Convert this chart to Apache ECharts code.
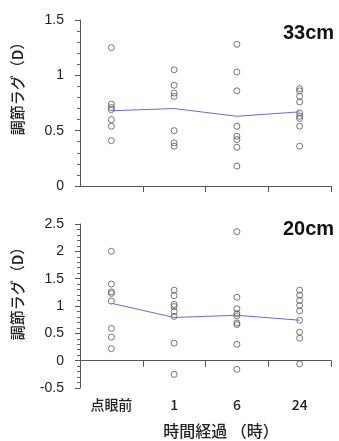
<!DOCTYPE html>
<html>
<head>
<meta charset="utf-8">
<script src="https://cdn.jsdelivr.net/npm/echarts@6/dist/echarts.min.js"></script>
<style>
html,body{margin:0;padding:0;background:#fff;}
#c{width:339px;height:441px;}
</style>
</head>
<body>
<div id="c"></div>
<script>
// ---- data ----
const categories = ['点眼前', '1', '6', '24'];

// 33cm panel: individual values per time point
const d33_pre = [1.25, 0.74, 0.71, 0.69, 0.60, 0.54, 0.41];
const d33_1h  = [1.05, 0.91, 0.84, 0.81, 0.50, 0.39, 0.36];
const d33_6h  = [1.28, 1.03, 0.86, 0.54, 0.45, 0.42, 0.35, 0.18];
const d33_24h = [0.88, 0.86, 0.81, 0.76, 0.66, 0.63, 0.61, 0.54, 0.36];
const mean33  = [0.68, 0.70, 0.63, 0.67];

// 20cm panel
const d20_pre = [2.00, 1.40, 1.26, 1.23, 1.09, 0.59, 0.43, 0.22];
const d20_1h  = [1.29, 1.19, 1.03, 0.99, 0.90, 0.81, 0.32, -0.25];
const d20_6h  = [2.36, 1.16, 0.95, 0.86, 0.82, 0.69, 0.66, 0.30, -0.16];
const d20_24h = [1.29, 1.20, 1.10, 1.01, 0.91, 0.74, 0.52, 0.41, -0.06];
const mean20  = [1.05, 0.79, 0.83, 0.74];

const ticks33 = [0, 0.5, 1, 1.5];
const ticks20 = [-0.5, 0, 0.5, 1, 1.5, 2, 2.5];

const yTitle = '調節ラグ（D）';
const xTitle = '時間経過 （時）';
const panelTitles = ['33cm', '20cm'];

// ---- build options ----
const groups33 = [d33_pre, d33_1h, d33_6h, d33_24h];
const groups20 = [d20_pre, d20_1h, d20_6h, d20_24h];

function toPoints(groups) {
  const pts = [];
  groups.forEach((g, i) => g.forEach(v => pts.push([categories[i], v])));
  return pts;
}

const jpFont = '"Noto Sans CJK JP", sans-serif';
const numFont = '"Liberation Sans", Arial, sans-serif';
const axisGray = '#555';

function xAxisCfg(gridIndex, showLabels) {
  return {
    type: 'category', gridIndex: gridIndex, data: categories, boundaryGap: true,
    axisLine: { lineStyle: { color: axisGray, width: 1 } },
    axisTick: { show: true, length: 6, interval: (idx) => idx !== 0, lineStyle: { color: axisGray } },
    axisLabel: { show: showLabels, fontFamily: jpFont, fontSize: 14, fontWeight: 500, color: '#222', margin: 10 },
    splitLine: { show: false }
  };
}

function yAxisCfg(gridIndex, min, max, ticks) {
  return {
    type: 'value', gridIndex: gridIndex, min: min, max: max, interval: 0.5,
    axisLine: { show: true, lineStyle: { color: axisGray, width: 1 } },
    axisTick: { show: true, length: 5, lineStyle: { color: axisGray } },
    minorTick: { show: true, splitNumber: 5, length: 3, lineStyle: { color: '#666' } },
    axisLabel: {
      fontFamily: numFont, fontSize: 14, color: '#222', margin: 16,
      formatter: (v) => ticks.indexOf(v) >= 0 ? String(v) : ''
    },
    splitLine: { show: false }, minorSplitLine: { show: false }
  };
}

const scatterStyle = { color: 'rgba(0,0,0,0)', borderColor: '#555', borderWidth: 1 };
const lineColor = '#6a6ade';

const option = {
  animation: false,
  backgroundColor: '#fff',
  grid: [
    { left: 80, right: 8, top: 20, height: 166 },
    { left: 80, right: 8, top: 224, height: 164 }
  ],
  xAxis: [xAxisCfg(0, false), xAxisCfg(1, true)],
  yAxis: [yAxisCfg(0, 0, 1.5, ticks33), yAxisCfg(1, -0.5, 2.5, ticks20)],
  series: [
    { type: 'scatter', xAxisIndex: 0, yAxisIndex: 0, symbol: 'circle', symbolSize: 6,
      itemStyle: scatterStyle, data: toPoints(groups33) },
    { type: 'line', xAxisIndex: 0, yAxisIndex: 0, symbol: 'none', z: 3,
      lineStyle: { color: lineColor, width: 1 }, data: mean33 },
    { type: 'scatter', xAxisIndex: 1, yAxisIndex: 1, symbol: 'circle', symbolSize: 6,
      itemStyle: scatterStyle, data: toPoints(groups20) },
    { type: 'line', xAxisIndex: 1, yAxisIndex: 1, symbol: 'none', z: 3,
      lineStyle: { color: lineColor, width: 1 }, data: mean20 }
  ],
  graphic: [
    { type: 'text', left: 283, top: 23, style: { text: panelTitles[0], font: 'bold 20px "Liberation Sans", Arial, sans-serif', fill: '#111' } },
    { type: 'text', left: 283, top: 219, style: { text: panelTitles[1], font: 'bold 20px "Liberation Sans", Arial, sans-serif', fill: '#111' } },
    { type: 'text', x: 17, y: 85, rotation: Math.PI / 2,
      style: { text: yTitle, font: '500 15px ' + jpFont, fill: '#222', align: 'center', verticalAlign: 'middle' } },
    { type: 'text', x: 17, y: 290, rotation: Math.PI / 2,
      style: { text: yTitle, font: '500 15px ' + jpFont, fill: '#222', align: 'center', verticalAlign: 'middle' } },
    { type: 'text', x: 221, y: 431,
      style: { text: xTitle, font: '500 16px ' + jpFont, fill: '#222', align: 'center', verticalAlign: 'middle' } }
  ]
};

const chart = echarts.init(document.getElementById('c'), null, { renderer: 'canvas' });
chart.setOption(option);
</script>
</body>
</html>
